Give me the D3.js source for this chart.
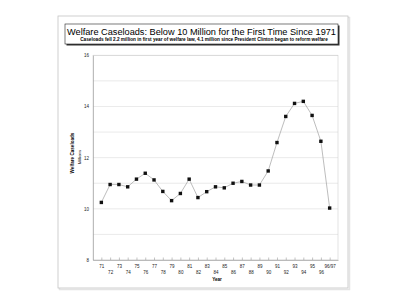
<!DOCTYPE html>
<html>
<head>
<meta charset="utf-8">
<script src="https://cdn.jsdelivr.net/npm/d3@7"></script>
<style>
  body { margin: 0; background: #fff; }
  svg { display: block; font-family: "Liberation Sans", Arial, sans-serif; }
</style>
</head>
<body>
<svg id="canvas"></svg>
<script>
const WIDTH = 400;
const HEIGHT = 308;

// data (millions of recipients)
const years = ["71", "72", "73", "74", "75", "76", "77", "78", "79", "80", "81", "82", "83",
  "84", "85", "86", "87", "88", "89", "90", "91", "92", "93", "94", "95", "96", "96/97"];
const caseloads = [10.25, 10.95, 10.95, 10.86, 11.16, 11.39, 11.13, 10.68, 10.32, 10.6, 11.16,
  10.44, 10.67, 10.86, 10.82, 11.0, 11.07, 10.93, 10.93, 11.48, 12.59, 13.61, 14.12, 14.2,
  13.65, 12.64, 10.03];
const yLabels = [8, 10, 12, 14, 16];

const title = "Welfare Caseloads: Below 10 Million for the First Time Since 1971";
const subtitle = "Caseloads fell 2.2 million in first year of welfare law, 4.1 million since President Clinton began to reform welfare";

const PLOT = { left: 93, right: 338, top: 55.3, bottom: 260 };

const canvas = d3.select("#canvas").attr("width", WIDTH).attr("height", HEIGHT);

// outer frame with a soft shadow
canvas.append("rect")
  .attr("x", 59.5).attr("y", 17.5).attr("width", 290).attr("height", 272)
  .attr("fill", "none").attr("stroke", "#e4e4e4").attr("stroke-width", 1.5);
canvas.append("rect")
  .attr("x", 58).attr("y", 16).attr("width", 290).attr("height", 272)
  .attr("fill", "#fff").attr("stroke", "#c4c4c4").attr("stroke-width", 0.8);

// title box
canvas.append("rect")
  .attr("x", 66.5).attr("y", 25.5).attr("width", 273).attr("height", 20)
  .attr("fill", "#333");
canvas.append("rect")
  .attr("x", 65).attr("y", 24).attr("width", 273).attr("height", 20)
  .attr("fill", "#fff").attr("stroke", "#222").attr("stroke-width", 0.6);
canvas.append("text")
  .attr("x", 201.5).attr("y", 34.6)
  .attr("text-anchor", "middle")
  .attr("font-size", 9.2)
  .attr("fill", "#000")
  .text(title);
canvas.append("text")
  .attr("x", 204).attr("y", 41.2)
  .attr("text-anchor", "middle")
  .attr("font-size", 4.7)
  .attr("font-weight", "bold")
  .attr("fill", "#000")
  .text(subtitle);

const xScale = d3.scalePoint()
  .domain(years)
  .range([PLOT.left, PLOT.right])
  .padding(0.95);

const yScale = d3.scaleLinear()
  .domain([8, 16])
  .range([PLOT.bottom, PLOT.top]);

// gridlines
canvas.append("g")
  .selectAll("line")
  .data(yScale.ticks(8))
  .enter()
  .append("line")
  .attr("x1", PLOT.left).attr("x2", PLOT.right)
  .attr("y1", (d) => yScale(d)).attr("y2", (d) => yScale(d))
  .attr("stroke", "#dcdcdc").attr("stroke-width", 0.6);

// plot border
canvas.append("rect")
  .attr("x", PLOT.left).attr("y", PLOT.top)
  .attr("width", PLOT.right - PLOT.left).attr("height", PLOT.bottom - PLOT.top)
  .attr("fill", "none").attr("stroke", "#cfcfcf").attr("stroke-width", 0.6);

// y axis
const yAxis = d3.axisLeft(yScale).tickValues(yLabels).tickSize(0).tickPadding(4);
const gy = canvas.append("g")
  .attr("transform", "translate(" + PLOT.left + ",0)")
  .call(yAxis);
gy.select(".domain").attr("stroke", "#999").attr("stroke-width", 0.6);
gy.selectAll("text").attr("font-size", 4.5).attr("font-family", "Liberation Sans, Arial, sans-serif").attr("fill", "#222");

// x axis with staggered labels
const xAxis = d3.axisBottom(xScale).tickSize(-2.5).tickSizeOuter(0).tickPadding(0);
const gx = canvas.append("g")
  .attr("transform", "translate(0," + PLOT.bottom + ")")
  .call(xAxis);
gx.select(".domain").attr("stroke", "#999").attr("stroke-width", 0.6);
gx.selectAll(".tick line").attr("stroke", "#888").attr("stroke-width", 0.5);
gx.selectAll("text")
  .attr("font-size", 4.5)
  .attr("font-family", "Liberation Sans, Arial, sans-serif")
  .attr("fill", "#222")
  .attr("dy", null)
  .attr("y", (d, i) => (i % 2 === 0 ? 7.8 : 13.6));

canvas.append("text")
  .attr("x", 217).attr("y", 280.5)
  .attr("text-anchor", "middle")
  .attr("font-size", 4.6).attr("font-weight", "bold")
  .text("Year");

// y axis title
canvas.append("text")
  .attr("transform", "translate(74,153) rotate(-90)")
  .attr("text-anchor", "middle")
  .attr("font-size", 4.6).attr("font-weight", "bold")
  .text("Welfare Caseloads");
canvas.append("text")
  .attr("transform", "translate(81,157) rotate(-90)")
  .attr("text-anchor", "middle")
  .attr("font-size", 4.2)
  .text("Millions");

// line and markers
const line = d3.line()
  .x((d, i) => xScale(years[i]))
  .y((d) => yScale(d));

canvas.append("path")
  .datum(caseloads)
  .attr("d", line)
  .attr("fill", "none")
  .attr("stroke", "#a0a0a0")
  .attr("stroke-width", 0.7);

const MARK = 3.4;
canvas.append("g")
  .selectAll("rect")
  .data(caseloads)
  .enter()
  .append("rect")
  .attr("x", (d, i) => xScale(years[i]) - MARK / 2)
  .attr("y", (d) => yScale(d) - MARK / 2)
  .attr("width", MARK)
  .attr("height", MARK)
  .attr("fill", "#111");
</script>
</body>
</html>
